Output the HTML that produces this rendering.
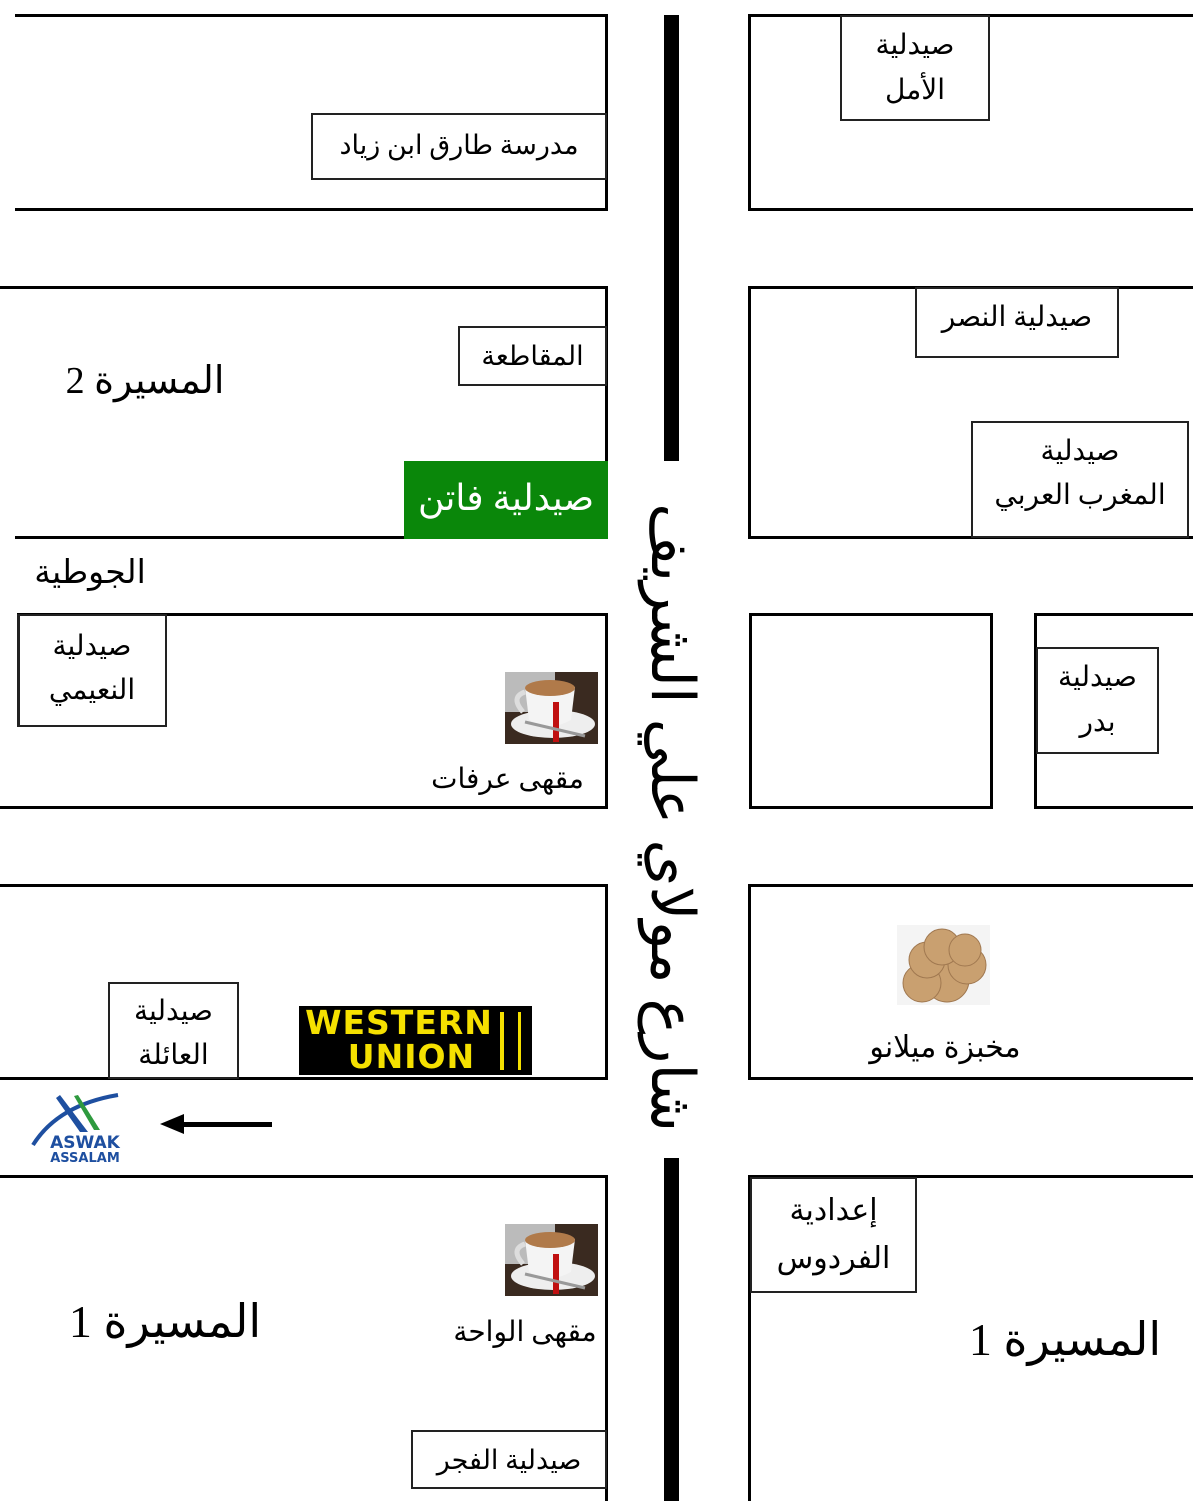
<!DOCTYPE html>
<html><head><meta charset="utf-8"><style>
html,body{margin:0;padding:0;background:#fff;}
#c{position:relative;width:1200px;height:1501px;overflow:hidden;background:#fff;font-family:"Liberation Serif","DejaVu Sans",serif;color:#000;}
.l{position:absolute;background:#000;}
.b{position:absolute;border:2px solid #222;box-sizing:border-box;background:#fff;}
.t{position:absolute;text-align:center;direction:rtl;white-space:nowrap;}
</style></head><body><div id="c">

<!-- road -->
<div class="l" style="left:664px;top:15px;width:15px;height:446px"></div>
<div class="l" style="left:664px;top:1158px;width:15px;height:343px"></div>
<div class="t" style="left:372px;top:792px;width:600px;height:80px;line-height:80px;font-size:60px;transform:rotate(90deg);transform-origin:300px 40px;">شارع مولاي علي الشريف</div>

<!-- LEFT block 1 -->
<div class="l" style="left:15px;top:14px;width:593px;height:3px"></div>
<div class="l" style="left:15px;top:208px;width:593px;height:3px"></div>
<div class="l" style="left:605px;top:14px;width:3px;height:197px"></div>
<div class="b" style="left:311px;top:113px;width:296px;height:67px"></div>
<div class="t" style="left:311px;top:125px;width:296px;font-size:27px;line-height:40px">مدرسة طارق ابن زياد</div>

<!-- LEFT block 2 -->
<div class="l" style="left:0;top:286px;width:608px;height:3px"></div>
<div class="l" style="left:15px;top:536px;width:593px;height:3px"></div>
<div class="l" style="left:605px;top:286px;width:3px;height:253px"></div>
<div class="b" style="left:458px;top:326px;width:149px;height:60px"></div>
<div class="t" style="left:458px;top:336px;width:149px;font-size:27px;line-height:40px">المقاطعة</div>
<div style="position:absolute;left:404px;top:461px;width:204px;height:78px;background:#0a870a"></div>
<div class="t" style="left:404px;top:474px;width:204px;font-size:36px;line-height:48px;color:#fff">صيدلية فاتن</div>
<div class="t" style="left:50px;top:355px;width:190px;font-size:38px;line-height:52px">المسيرة 2</div>
<div class="t" style="left:25px;top:550px;width:130px;font-size:33px;line-height:46px">الجوطية</div>

<!-- LEFT block 3 -->
<div class="l" style="left:17px;top:613px;width:591px;height:3px"></div>
<div class="l" style="left:0;top:806px;width:608px;height:3px"></div>
<div class="l" style="left:605px;top:613px;width:3px;height:196px"></div>
<div class="b" style="left:17px;top:614px;width:150px;height:113px;border-width:2px 2px 2px 3px"></div>
<div class="t" style="left:17px;top:625px;width:150px;font-size:28px;line-height:44px">صيدلية<br>النعيمي</div>
<svg style="position:absolute;left:505px;top:672px" width="93" height="72" viewBox="0 0 93 72"><rect width="93" height="72" fill="#3a2a20"/><rect width="50" height="40" fill="#bbb"/><ellipse cx="48" cy="52" rx="42" ry="14" fill="#eee"/><path d="M20 15 Q45 5 70 15 L66 48 Q45 60 24 48 Z" fill="#f4f4f4"/><ellipse cx="45" cy="16" rx="25" ry="8" fill="#b07a4a"/><path d="M20 20 Q5 25 18 40" stroke="#ddd" stroke-width="5" fill="none"/><rect x="48" y="30" width="6" height="40" fill="#c01010"/><line x1="20" y1="50" x2="80" y2="64" stroke="#999" stroke-width="3"/></svg>
<div class="t" style="left:420px;top:760px;width:175px;font-size:28px;line-height:40px">مقهى عرفات</div>

<!-- LEFT block 4 -->
<div class="l" style="left:0;top:884px;width:608px;height:3px"></div>
<div class="l" style="left:0;top:1077px;width:608px;height:3px"></div>
<div class="l" style="left:605px;top:884px;width:3px;height:196px"></div>
<div class="b" style="left:108px;top:982px;width:131px;height:97px"></div>
<div class="t" style="left:108px;top:990px;width:131px;font-size:28px;line-height:44px">صيدلية<br>العائلة</div>
<div style="position:absolute;left:299px;top:1006px;width:233px;height:69px;background:#000"></div>
<div style="position:absolute;left:302px;top:1006px;width:194px;font:bold 33px/34px 'DejaVu Sans',sans-serif;color:#f5e000;text-align:center;letter-spacing:1px">WESTERN<br>&nbsp;&nbsp;UNION</div>
<div style="position:absolute;left:500px;top:1012px;width:4px;height:58px;background:#f5e000"></div>
<div style="position:absolute;left:518px;top:1012px;width:3px;height:58px;background:#f5e000"></div>
<!-- aswak logo -->
<svg style="position:absolute;left:28px;top:1090px" width="115" height="75" viewBox="0 0 115 75"><path d="M5 55 Q30 15 90 5" stroke="#1e4fa0" stroke-width="4" fill="none"/><path d="M32 5 L60 42 L52 42 L28 8 Z" fill="#1e4fa0"/><path d="M50 5 L72 40 L66 40 L46 6 Z" fill="#2e9a3e"/><text x="57" y="58" font-family="DejaVu Sans" font-weight="bold" font-size="17" fill="#1e4fa0" text-anchor="middle">ASWAK</text><text x="57" y="72" font-family="DejaVu Sans" font-weight="bold" font-size="13" fill="#1e4fa0" text-anchor="middle">ASSALAM</text></svg>
<div class="l" style="left:180px;top:1122px;width:92px;height:5px"></div>
<svg style="position:absolute;left:160px;top:1112px" width="24" height="24"><polygon points="0,12 24,2 24,22" fill="#000"/></svg>

<!-- LEFT block 5 -->
<div class="l" style="left:0;top:1175px;width:608px;height:3px"></div>
<div class="l" style="left:605px;top:1175px;width:3px;height:326px"></div>
<svg style="position:absolute;left:505px;top:1224px" width="93" height="72" viewBox="0 0 93 72"><rect width="93" height="72" fill="#3a2a20"/><rect width="50" height="40" fill="#bbb"/><ellipse cx="48" cy="52" rx="42" ry="14" fill="#eee"/><path d="M20 15 Q45 5 70 15 L66 48 Q45 60 24 48 Z" fill="#f4f4f4"/><ellipse cx="45" cy="16" rx="25" ry="8" fill="#b07a4a"/><path d="M20 20 Q5 25 18 40" stroke="#ddd" stroke-width="5" fill="none"/><rect x="48" y="30" width="6" height="40" fill="#c01010"/><line x1="20" y1="50" x2="80" y2="64" stroke="#999" stroke-width="3"/></svg>
<div class="t" style="left:440px;top:1313px;width:170px;font-size:28px;line-height:40px">مقهى الواحة</div>
<div class="t" style="left:55px;top:1290px;width:220px;font-size:46px;line-height:64px">المسيرة 1</div>
<div class="b" style="left:411px;top:1430px;width:196px;height:59px"></div>
<div class="t" style="left:411px;top:1440px;width:196px;font-size:27px;line-height:40px">صيدلية الفجر</div>

<!-- RIGHT block 1 -->
<div class="l" style="left:749px;top:14px;width:444px;height:3px"></div>
<div class="l" style="left:749px;top:208px;width:444px;height:3px"></div>
<div class="l" style="left:748px;top:14px;width:3px;height:197px"></div>
<div class="b" style="left:840px;top:15px;width:150px;height:106px"></div>
<div class="t" style="left:840px;top:23px;width:150px;font-size:28px;line-height:45px">صيدلية<br>الأمل</div>

<!-- RIGHT block 2 -->
<div class="l" style="left:749px;top:286px;width:444px;height:3px"></div>
<div class="l" style="left:749px;top:536px;width:444px;height:3px"></div>
<div class="l" style="left:748px;top:286px;width:3px;height:253px"></div>
<div class="b" style="left:915px;top:287px;width:204px;height:71px"></div>
<div class="t" style="left:915px;top:298px;width:204px;font-size:28px;line-height:40px">صيدلية النصر</div>
<div class="b" style="left:971px;top:421px;width:218px;height:117px"></div>
<div class="t" style="left:971px;top:430px;width:218px;font-size:28px;line-height:44px">صيدلية<br>المغرب العربي</div>

<!-- RIGHT block 3 -->
<div class="b" style="left:749px;top:613px;width:244px;height:196px;border:3px solid #000"></div>
<div class="l" style="left:1034px;top:613px;width:159px;height:3px"></div>
<div class="l" style="left:1034px;top:806px;width:159px;height:3px"></div>
<div class="l" style="left:1034px;top:613px;width:3px;height:196px"></div>
<div class="b" style="left:1036px;top:647px;width:123px;height:107px"></div>
<div class="t" style="left:1036px;top:655px;width:123px;font-size:28px;line-height:45px">صيدلية<br>بدر</div>

<!-- RIGHT block 4 -->
<div class="l" style="left:749px;top:884px;width:444px;height:3px"></div>
<div class="l" style="left:749px;top:1077px;width:444px;height:3px"></div>
<div class="l" style="left:748px;top:884px;width:3px;height:196px"></div>
<svg style="position:absolute;left:897px;top:925px" width="93" height="80" viewBox="0 0 93 80"><rect width="93" height="80" fill="#f4f4f4"/><g fill="#c9a070" stroke="#a07850" stroke-width="1"><circle cx="50" cy="55" r="22"/><circle cx="25" cy="58" r="19"/><circle cx="70" cy="40" r="19"/><circle cx="30" cy="35" r="18"/><circle cx="45" cy="22" r="18"/><circle cx="68" cy="25" r="16"/></g></svg>
<div class="t" style="left:850px;top:1027px;width:190px;font-size:30px;line-height:42px">مخبزة ميلانو</div>

<!-- RIGHT block 5 -->
<div class="l" style="left:749px;top:1175px;width:444px;height:3px"></div>
<div class="l" style="left:748px;top:1175px;width:3px;height:326px"></div>
<div class="b" style="left:750px;top:1177px;width:167px;height:116px"></div>
<div class="t" style="left:750px;top:1187px;width:167px;font-size:30px;line-height:48px">إعدادية<br>الفردوس</div>
<div class="t" style="left:955px;top:1308px;width:220px;font-size:46px;line-height:64px">المسيرة 1</div>

</div></body></html>
